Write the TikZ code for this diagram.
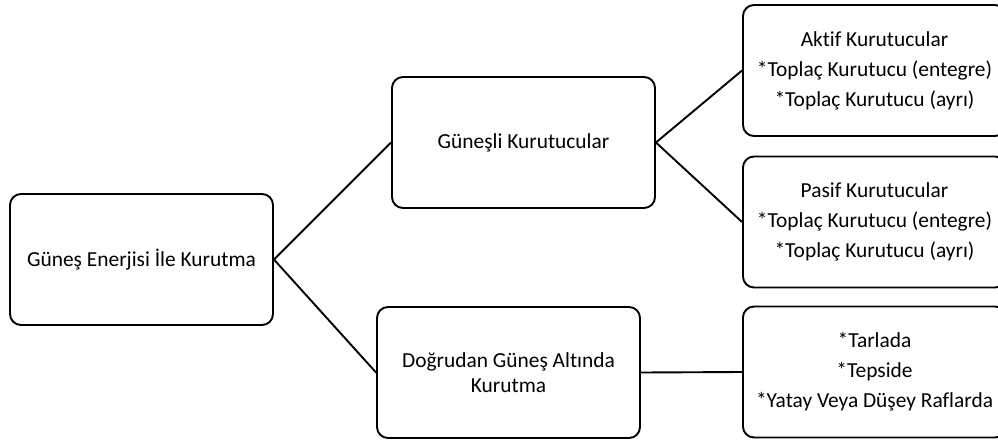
\documentclass[tikz,border=0pt]{standalone}
\usepackage{fontspec}
\setmainfont{Carlito}[RawFeature={-liga}]
\begin{document}
\begin{tikzpicture}[x=1pt,y=-1pt,
  box/.style={draw, line width=1.9pt, rounded corners=11pt, minimum width=263pt, minimum height=131pt, align=center, inner sep=0pt, font=\fontsize{21.4}{25.5}\selectfont},
  listbox/.style={box, font=\fontsize{21.4}{30}\selectfont},
  conn/.style={line width=1.9pt}]
\useasboundingbox (0,0) rectangle (998,442);
\clip (0,0) rectangle (998,442);
\node[box] (root) at (141.5,259.5) {Güneş Enerjisi İle Kurutma};
\node[box] (gun) at (523.5,142.5) {Güneşli Kurutucular};
\node[box] (dog) at (508.5,372.5) {Doğrudan Güneş Altında\\Kurutma};
\node[listbox] (aktif) at (874.5,70.5) {Aktif Kurutucular\\*Toplaç Kurutucu (entegre)\\*Toplaç Kurutucu (ayrı)};
\node[listbox] (pasif) at (874.5,222) {Pasif Kurutucular\\*Toplaç Kurutucu (entegre)\\*Toplaç Kurutucu (ayrı)};
\node[listbox] (yer) at (874.5,372) {*Tarlada\\*Tepside\\*Yatay Veya Düşey Raflarda};
\draw[conn] (root.east) -- (gun.west);
\draw[conn] (root.east) -- (dog.west);
\draw[conn] (gun.east) -- (aktif.west);
\draw[conn] (gun.east) -- (pasif.west);
\draw[conn] (dog.east) -- (yer.west);
\end{tikzpicture}
\end{document}
